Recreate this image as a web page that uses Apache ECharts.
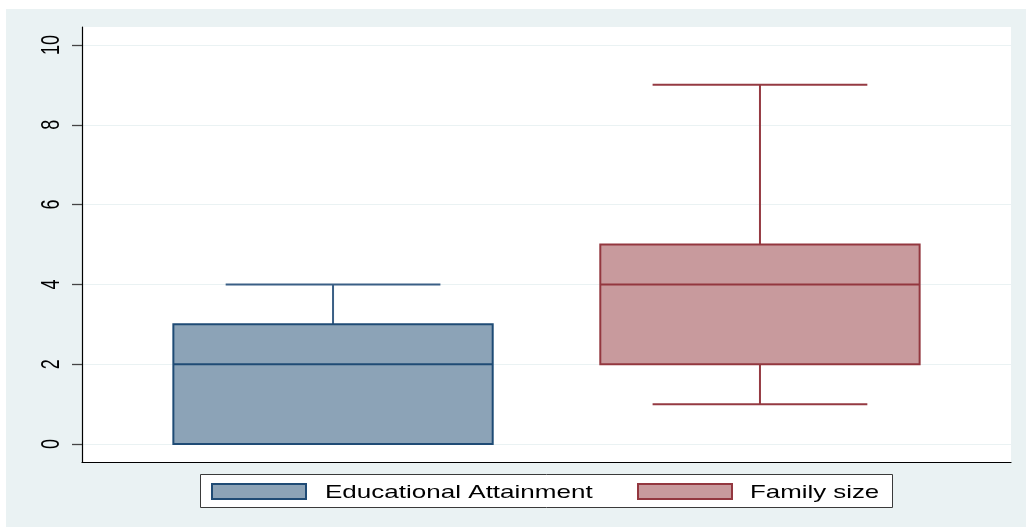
<!DOCTYPE html>
<html>
<head>
<meta charset="utf-8">
<script src="https://cdn.jsdelivr.net/npm/echarts@6/dist/echarts.min.js"></script>
<style>
  html, body { margin:0; padding:0; background:#ffffff; }
  #bg { position:absolute; left:6px; top:9px; width:1020px; height:518px; background:#EAF2F3; }
  #chart { position:absolute; left:0; top:0; width:1026px; height:527px; }
</style>
</head>
<body>
<div id="bg"></div>
<div id="chart"></div>
<script>
// ---- data ----
const categories = ['Educational Attainment', 'Family size'];
const positions = [1, 2];
// [min, q1, median, q3, max]
const eduStats = [0, 0, 2, 3, 4];
const famStats = [1, 2, 4, 5, 9];
const yTicks = [0, 2, 4, 6, 8, 10];
const yTickLabels = ['0', '2', '4', '6', '8', '10'];

const fills = ['#8CA3B7', '#C89A9D'];
const strokes = ['#1F4B75', '#93373F'];
const whiskerColors = ['#3A5F85', '#953A42'];

const BOX_W = 0.748;
const CAP_W = 0.503;

function renderBox(idx) {
  return function (params, api) {
    const x = api.value(0);
    const mn = api.value(1), q1 = api.value(2), md = api.value(3), q3 = api.value(4), mx = api.value(5);
    const bw = api.size([BOX_W, 0])[0];
    const cw = api.size([CAP_W, 0])[0];
    const pMin = api.coord([x, mn]);
    const pQ1 = api.coord([x, q1]);
    const pMd = api.coord([x, md]);
    const pQ3 = api.coord([x, q3]);
    const pMax = api.coord([x, mx]);
    const cx = pMd[0];
    const wStyle = { stroke: whiskerColors[idx], lineWidth: 2 };
    const children = [];
    if (mx > q3) {
      children.push({ type: 'line', shape: { x1: cx, y1: pQ3[1], x2: cx, y2: pMax[1] }, style: wStyle });
      children.push({ type: 'line', shape: { x1: cx - cw / 2, y1: pMax[1], x2: cx + cw / 2, y2: pMax[1] }, style: wStyle });
    }
    if (mn < q1) {
      children.push({ type: 'line', shape: { x1: cx, y1: pQ1[1], x2: cx, y2: pMin[1] }, style: wStyle });
      children.push({ type: 'line', shape: { x1: cx - cw / 2, y1: pMin[1], x2: cx + cw / 2, y2: pMin[1] }, style: wStyle });
    }
    children.push({ type: 'rect', shape: { x: cx - bw / 2, y: pQ3[1], width: bw, height: pQ1[1] - pQ3[1] },
      style: { fill: fills[idx], stroke: strokes[idx], lineWidth: 2 } });
    children.push({ type: 'line', shape: { x1: cx - bw / 2, y1: pMd[1], x2: cx + bw / 2, y2: pMd[1] },
      style: { stroke: strokes[idx], lineWidth: 2 } });
    return { type: 'group', children: children };
  };
}

const allStats = [eduStats, famStats];
const series = categories.map((name, i) => ({
  type: 'custom',
  name: name,
  renderItem: renderBox(i),
  xAxisIndex: 0, yAxisIndex: 0,
  encode: { x: 0, y: [1, 2, 3, 4, 5] },
  data: [[positions[i]].concat(allStats[i])],
  z: 3
}));

// legend drawn as graphic (Stata style box)
const FONT = 'Liberation Sans';
const legendEls = [
  { type: 'rect', shape: { x: 200.5, y: 474.5, width: 692, height: 33 }, style: { fill: '#ffffff', stroke: '#3a3a3a', lineWidth: 1 }, z: 10 },
  { type: 'rect', shape: { x: 212, y: 484, width: 94, height: 15 }, style: { fill: fills[0], stroke: strokes[0], lineWidth: 2 }, z: 11 },
  { type: 'text', x: 325, y: 493, scaleX: 1.37, style: { text: categories[0], fontSize: 19, fontFamily: FONT, fill: '#000', textAlign: 'left', verticalAlign: 'middle' }, z: 11 },
  { type: 'rect', shape: { x: 638, y: 484, width: 94, height: 15 }, style: { fill: fills[1], stroke: strokes[1], lineWidth: 2 }, z: 11 },
  { type: 'text', x: 750, y: 493, scaleX: 1.36, style: { text: categories[1], fontSize: 19, fontFamily: FONT, fill: '#000', textAlign: 'left', verticalAlign: 'middle' }, z: 11 }
];

const chart = echarts.init(document.getElementById('chart'), null, { renderer: 'canvas' });
chart.setOption({
  animation: false,
  backgroundColor: 'transparent',
  grid: [
    { left: 82, right: 15, top: 27, bottom: 65, show: true, backgroundColor: '#ffffff', borderWidth: 0 },
    { left: 82, right: 15, top: 44.96, bottom: 82.96, show: false }
  ],
  xAxis: [
    { gridIndex: 0, type: 'value', min: 0.412, max: 2.588,
      axisLine: { show: true, onZero: false, lineStyle: { color: '#000', width: 1.2 } },
      axisTick: { show: false }, axisLabel: { show: false }, splitLine: { show: false } },
    { gridIndex: 1, type: 'value', min: 0, max: 1, show: false }
  ],
  yAxis: [
    { gridIndex: 0, type: 'value', min: -0.45, max: 10.45,
      axisLine: { show: true, onZero: false, lineStyle: { color: '#000', width: 1.2 } },
      axisTick: { show: false }, axisLabel: { show: false }, splitLine: { show: false } },
    { gridIndex: 1, type: 'value', min: yTicks[0], max: yTicks[yTicks.length - 1], interval: 2,
      axisLine: { show: false },
      axisTick: { show: true, length: 10, lineStyle: { color: '#444', width: 1.3 } },
      axisLabel: { show: false },
      splitLine: { show: true, lineStyle: { color: '#EAF2F3', width: 1.2 } } }
  ],
  series: series,
  graphic: { elements: legendEls }
});

// tick labels: rotated, horizontally stretched like the Stata export; placed via the axis scale
const labelEls = yTicks.map((v, i) => {
  const p = chart.convertToPixel({ xAxisIndex: 1, yAxisIndex: 1 }, [0, v]);
  return { type: 'text', x: 52, y: p[1], rotation: Math.PI / 2, scaleX: 1, scaleY: 1.45,
    style: { text: yTickLabels[i], fontSize: 18, fontFamily: FONT, fill: '#000', textAlign: 'center', verticalAlign: 'middle' }, z: 11 };
});
chart.setOption({ graphic: { elements: legendEls.concat(labelEls) } });
</script>
</body>
</html>
